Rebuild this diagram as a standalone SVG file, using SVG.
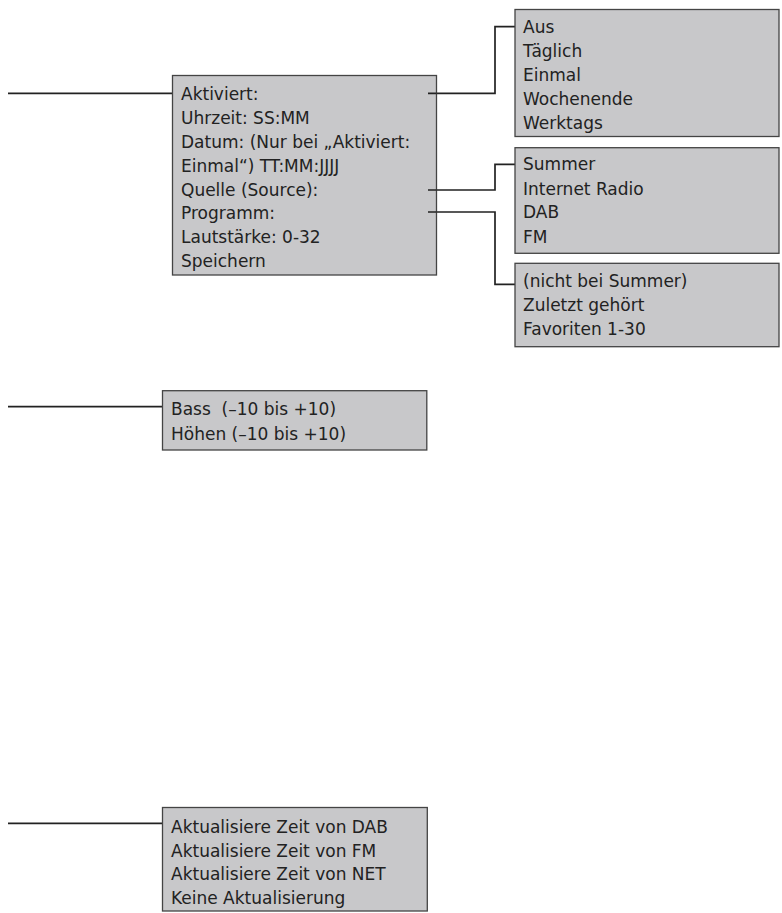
<svg xmlns="http://www.w3.org/2000/svg" width="782" height="913" viewBox="0 0 782 913">
<style>
.box{fill:#c8c8ca;stroke:#444;stroke-width:1.3}
.t{font-family:"DejaVu Sans",sans-serif;font-size:17px;fill:#222;white-space:pre}
.c{fill:none;stroke:#222;stroke-width:1.7}
</style>
<rect width="782" height="913" fill="#fff"/>
<g id="connectors">
<path class="c" d="M8,93.3H172.5"/>
<path class="c" d="M428,93.3H495V26.7H515"/>
<path class="c" d="M428,190H495V164.3H515"/>
<path class="c" d="M428,212H495V284.3H515"/>
<path class="c" d="M8,406.7H162.5"/>
<path class="c" d="M8,823.3H162.5"/>
</g>
<g id="alarm">
<rect class="box" x="172.5" y="75.5" width="264" height="199.5"/>
<text class="t" x="181" y="99.5">Aktiviert:</text>
<text class="t" x="181" y="123.5">Uhrzeit: SS:MM</text>
<text class="t" x="181" y="147.5">Datum: (Nur bei „Aktiviert:</text>
<text class="t" x="181" y="171.5">Einmal“) TT:MM:JJJJ</text>
<text class="t" x="181" y="195.5">Quelle (Source):</text>
<text class="t" x="181" y="219">Programm:</text>
<text class="t" x="181" y="242.5">Lautstärke: 0-32</text>
<text class="t" x="181" y="266.5">Speichern</text>
<path class="c" d="M428,93.3H436.5M428,190H436.5M428,212H436.5"/>
</g>
<g id="aktiviert">
<rect class="box" x="515" y="9.5" width="264" height="127"/>
<text class="t" x="523" y="32.7">Aus</text>
<text class="t" x="523" y="56.7">Täglich</text>
<text class="t" x="523" y="80.7">Einmal</text>
<text class="t" x="523" y="104.7">Wochenende</text>
<text class="t" x="523" y="128.7">Werktags</text>
</g>
<g id="quelle">
<rect class="box" x="515" y="147.7" width="264" height="105.6"/>
<text class="t" x="523" y="170.3">Summer</text>
<text class="t" x="523" y="194.6">Internet Radio</text>
<text class="t" x="523" y="218.3">DAB</text>
<text class="t" x="523" y="242.5">FM</text>
</g>
<g id="programm">
<rect class="box" x="515" y="263.3" width="264" height="83.4"/>
<text class="t" x="523" y="287">(nicht bei Summer)</text>
<text class="t" x="523" y="311">Zuletzt gehört</text>
<text class="t" x="523" y="334.5">Favoriten 1-30</text>
</g>
<g id="klang">
<rect class="box" x="162.5" y="390.7" width="264.3" height="59.3"/>
<text class="t" x="171" y="415" xml:space="preserve">Bass  (–10 bis +10)</text>
<text class="t" x="171" y="440.3">Höhen (–10 bis +10)</text>
</g>
<g id="zeit">
<rect class="box" x="162.5" y="807.5" width="264.8" height="103.5"/>
<text class="t" x="171" y="832.7">Aktualisiere Zeit von DAB</text>
<text class="t" x="171" y="856.7">Aktualisiere Zeit von FM</text>
<text class="t" x="171" y="880">Aktualisiere Zeit von NET</text>
<text class="t" x="171" y="904.3">Keine Aktualisierung</text>
</g>
</svg>
